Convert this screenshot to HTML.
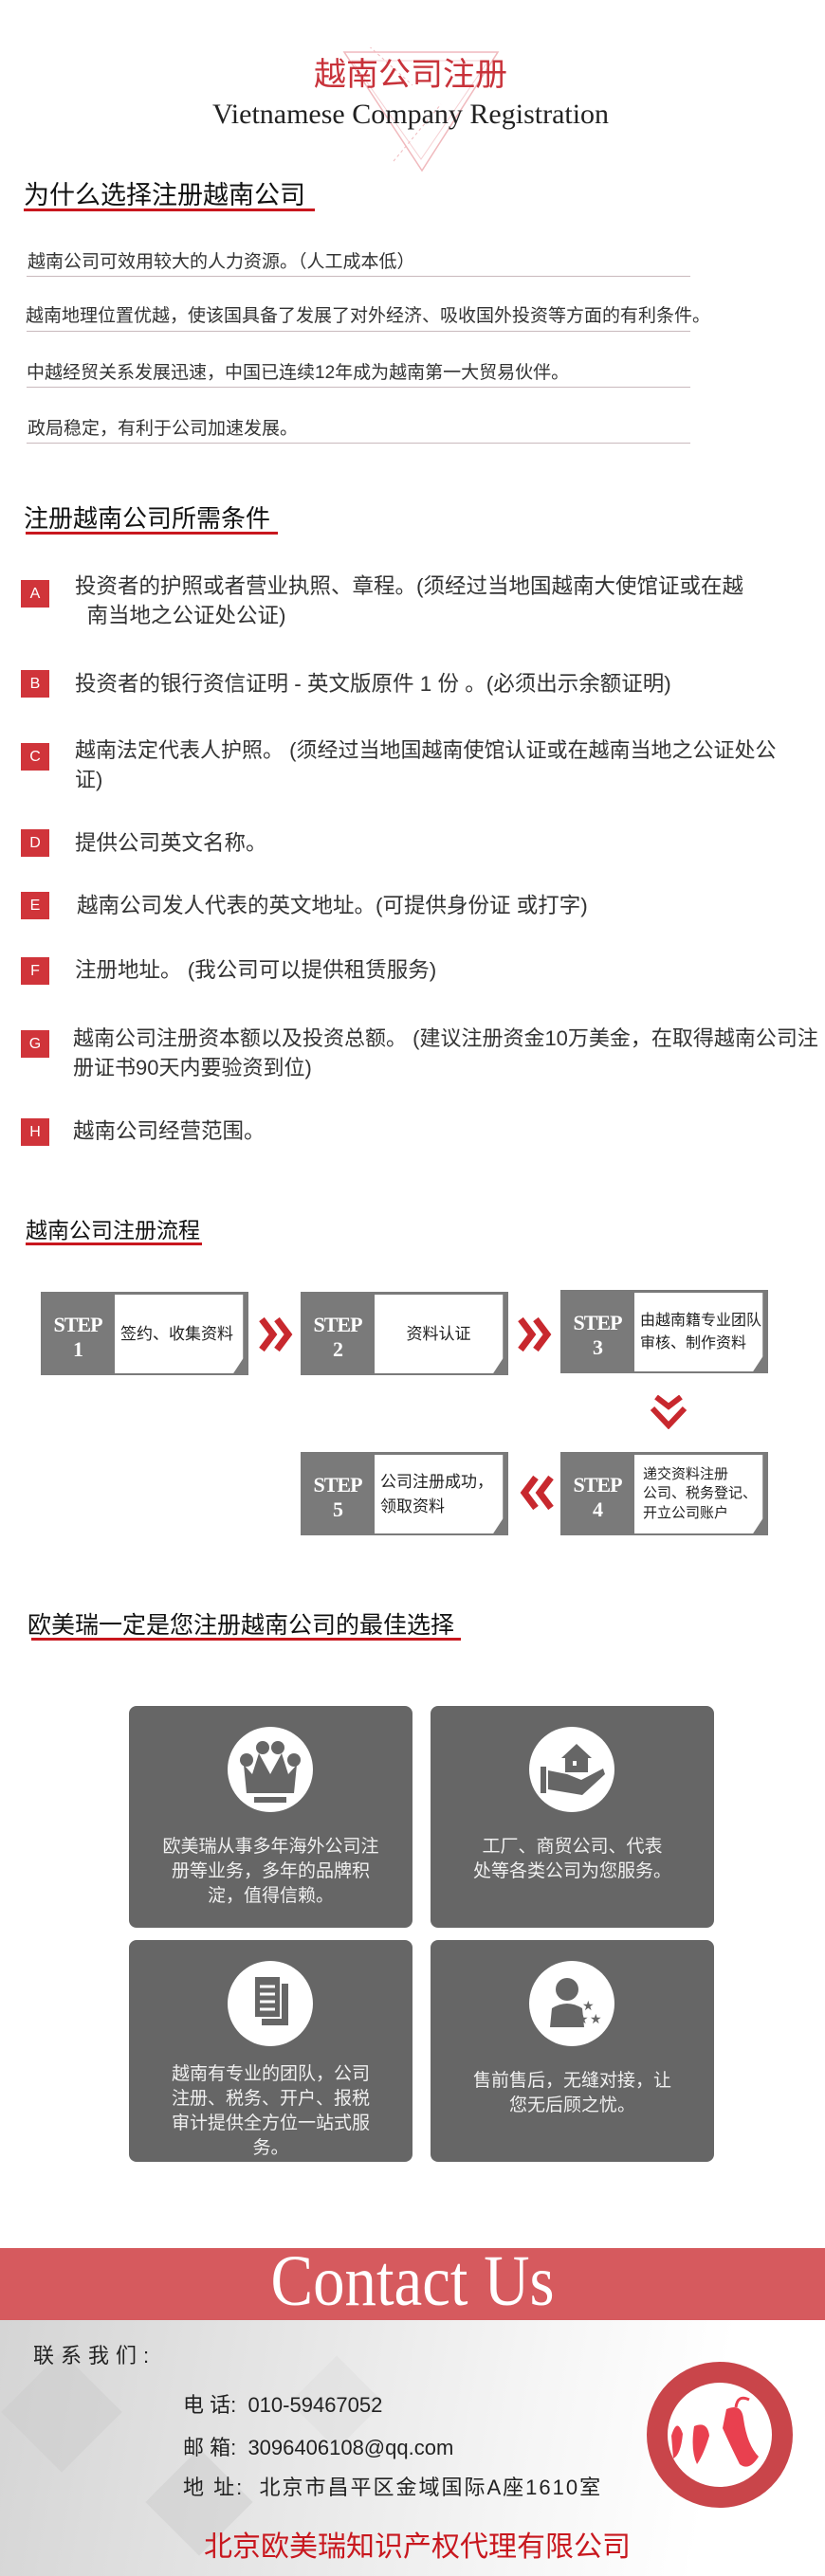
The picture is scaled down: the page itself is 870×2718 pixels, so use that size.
<!DOCTYPE html>
<html><head><meta charset="utf-8"><style>
*{margin:0;padding:0;box-sizing:border-box}
body{width:870px;height:2718px;position:relative;background:#fff;font-family:"Liberation Sans","Noto Sans CJK SC",sans-serif;overflow:hidden;color:#333}
.a{position:absolute;white-space:nowrap}
.h{font-size:26px;color:#111;line-height:1}
.ul{position:absolute;height:3px;background:#c8171e}
.wl{font-size:19px;line-height:1;color:#333}
.ln{position:absolute;height:1px;background:#c9b9bd;left:28px;width:700px}
.bx{position:absolute;left:22px;width:30px;height:29px;background:#d0343a;color:#fff;font-size:16px;text-align:center;line-height:29px}
.it{font-size:22.5px;line-height:31px;color:#333}
.step{position:absolute;width:219px;height:88px;background:#7a7a7a}
.step .w{position:absolute;left:78px;top:3px;width:136px;height:83px;background:#fff;border-right:1px solid #999;font-size:17px;color:#222;display:flex;align-items:center;padding-left:6px;line-height:1.5;clip-path:polygon(0 0,100% 0,100% 80%,92% 100%,0 100%)}
.step .lb{position:absolute;left:0;width:78px;top:22px;text-align:center;color:#fff;font-family:"Liberation Serif",serif;font-weight:bold;font-size:22px;line-height:26px;letter-spacing:-1px}
.card{position:absolute;width:299px;height:234px;background:#666;border-radius:8px;color:#f0f0f0;text-align:center;font-size:19px;line-height:26px}
.card .c{position:absolute;left:104px;top:22px;width:90px;height:90px;border-radius:50%;background:#fff}
.card .t{position:absolute;left:0;right:0;top:136px}
.ct{font-size:22px;color:#222;line-height:1}
</style></head><body>

<svg class="a" style="left:355px;top:50px" width="180" height="140">
<polygon points="8,5 170,5 90,130" fill="none" stroke="#f0b9bd" stroke-width="1.5"/>
<polygon points="16,14 160,14 89,118" fill="none" stroke="#f5d0d3" stroke-width="1"/>
<line x1="30" y1="-5" x2="80" y2="40" stroke="#f0b9bd" stroke-dasharray="3,3"/>
<line x1="60" y1="120" x2="110" y2="60" stroke="#f0b9bd" stroke-dasharray="3,3"/>
</svg>
<div class="a" style="left:0;width:866px;text-align:center;top:62px;font-size:34px;color:#c8323a;line-height:1">越南公司注册</div>
<div class="a" style="left:0;width:866px;text-align:center;top:106px;font-family:'Liberation Serif',serif;font-size:30px;color:#222;line-height:1">Vietnamese Company Registration</div>

<div class="a h" style="left:25px;top:193px;font-size:27px">为什么选择注册越南公司</div>
<div class="ul" style="left:25px;top:220px;width:307px"></div>

<div class="a wl" style="left:29px;top:267px">越南公司可效用较大的人力资源。（人工成本低）</div><div class="ln" style="top:291px"></div>
<div class="a wl" style="left:27px;top:324px">越南地理位置优越，使该国具备了发展了对外经济、吸收国外投资等方面的有利条件。</div><div class="ln" style="top:349px"></div>
<div class="a wl" style="left:28px;top:384px">中越经贸关系发展迅速，中国已连续12年成为越南第一大贸易伙伴。</div><div class="ln" style="top:408px"></div>
<div class="a wl" style="left:29px;top:443px">政局稳定，有利于公司加速发展。</div><div class="ln" style="top:467px"></div>

<div class="a h" style="left:25px;top:534px;font-size:26px">注册越南公司所需条件</div>
<div class="ul" style="left:27px;top:561px;width:266px"></div>

<div class="bx" style="top:612px">A</div>
<div class="a it" style="left:79px;top:603px">投资者的护照或者营业执照、章程。(须经过当地国越南大使馆证或在越<br>&nbsp;&nbsp;南当地之公证处公证)</div>
<div class="bx" style="top:707px">B</div>
<div class="a it" style="left:79px;top:706px">投资者的银行资信证明 - 英文版原件 1 份 。(必须出示余额证明)</div>
<div class="bx" style="top:784px">C</div>
<div class="a it" style="left:79px;top:776px;font-size:22px">越南法定代表人护照。 (须经过当地国越南使馆认证或在越南当地之公证处公<br>证)</div>
<div class="bx" style="top:875px">D</div>
<div class="a it" style="left:79px;top:874px">提供公司英文名称。</div>
<div class="bx" style="top:941px">E</div>
<div class="a it" style="left:81px;top:940px">越南公司发人代表的英文地址。(可提供身份证 或打字)</div>
<div class="bx" style="top:1010px">F</div>
<div class="a it" style="left:79px;top:1008px">注册地址。 (我公司可以提供租赁服务)</div>
<div class="bx" style="top:1087px">G</div>
<div class="a it" style="left:77px;top:1080px;font-size:22px">越南公司注册资本额以及投资总额。 (建议注册资金10万美金，在取得越南公司注<br>册证书90天内要验资到位)</div>
<div class="bx" style="top:1180px">H</div>
<div class="a it" style="left:77px;top:1178px">越南公司经营范围。</div>

<div class="a h" style="left:27px;top:1287px;font-size:23px">越南公司注册流程</div>
<div class="ul" style="left:27px;top:1311px;width:186px"></div>

<div class="step" style="left:43px;top:1363px"><div class="lb">STEP<br>1</div><div class="w">签约、收集资料</div></div>
<div class="step" style="left:317px;top:1363px"><div class="lb">STEP<br>2</div><div class="w" style="justify-content:center;padding:0">资料认证</div></div>
<div class="step" style="left:591px;top:1361px"><div class="lb">STEP<br>3</div><div class="w" style="font-size:16px">由越南籍专业团队<br>审核、制作资料</div></div>
<div class="step" style="left:591px;top:1532px"><div class="lb">STEP<br>4</div><div class="w" style="font-size:15px;line-height:1.35;padding-left:9px">递交资料注册<br>公司、税务登记、<br>开立公司账户</div></div>
<div class="step" style="left:317px;top:1532px"><div class="lb">STEP<br>5</div><div class="w">公司注册成功，<br>领取资料</div></div>

<svg class="a" style="left:272px;top:1388px" width="40" height="40"><path d="M4,4 L16,20 L4,36 M20,4 L32,20 L20,36" fill="none" stroke="#c8282e" stroke-width="7"/></svg>
<svg class="a" style="left:545px;top:1388px" width="40" height="40"><path d="M4,4 L16,20 L4,36 M20,4 L32,20 L20,36" fill="none" stroke="#c8282e" stroke-width="7"/></svg>
<svg class="a" style="left:684px;top:1472px" width="42" height="36"><path d="M8,2 L21,12 L34,2 M4,14 L21,32 L38,14" fill="none" stroke="#c8282e" stroke-width="6"/></svg>
<svg class="a" style="left:545px;top:1555px" width="40" height="40"><path d="M36,4 L24,20 L36,36 M20,4 L8,20 L20,36" fill="none" stroke="#c8282e" stroke-width="7"/></svg>

<div class="a h" style="left:29px;top:1703px;font-size:25px">欧美瑞一定是您注册越南公司的最佳选择</div>
<div class="ul" style="left:33px;top:1728px;width:453px"></div>

<div class="card" style="left:136px;top:1800px"><div class="c"><svg width="90" height="90"><g fill="#666"><circle cx="20" cy="35" r="7"/><circle cx="37" cy="22" r="7"/><circle cx="53" cy="22" r="7"/><circle cx="70" cy="35" r="7"/><path d="M17,40 L26,50 L33,28 L45,50 L57,28 L64,50 L73,40 L70,70 L20,70 Z"/><rect x="28" y="74" width="34" height="6"/></g></svg></div><div class="t">欧美瑞从事多年海外公司注<br>册等业务，多年的品牌积<br>淀，值得信赖。</div></div>
<div class="card" style="left:454px;top:1800px"><div class="c"><svg width="90" height="90"><g fill="#666"><path d="M50,18 L66,33 L62,33 L62,48 L38,48 L38,33 L34,33 Z"/><rect x="12" y="42" width="6" height="28"/><path d="M20,46 L40,50 L55,56 L78,44 L80,50 L56,72 L20,66 Z"/></g><rect x="46" y="36" width="4" height="5" fill="#fff"/></svg></div><div class="t" style="top:136px">工厂、商贸公司、代表<br>处等各类公司为您服务。</div></div>
<div class="card" style="left:136px;top:2047px"><div class="c"><svg width="90" height="90"><rect x="36" y="24" width="28" height="44" fill="#666"/><rect x="28" y="16" width="28" height="44" fill="#666" stroke="#fff" stroke-width="2"/><g stroke="#fff" stroke-width="3"><line x1="34" y1="27" x2="50" y2="27"/><line x1="34" y1="35" x2="50" y2="35"/><line x1="34" y1="43" x2="50" y2="43"/><line x1="34" y1="51" x2="50" y2="51"/></g></svg></div><div class="t" style="top:129px">越南有专业的团队，公司<br>注册、税务、开户、报税<br>审计提供全方位一站式服<br>务。</div></div>
<div class="card" style="left:454px;top:2047px"><div class="c"><svg width="90" height="90"><g fill="#666"><circle cx="40" cy="30" r="12"/><path d="M22,70 L24,50 Q40,40 56,50 L58,70 Z"/><text x="56" y="52" font-size="14" font-family="DejaVu Sans">★</text><text x="50" y="66" font-size="14" font-family="DejaVu Sans">★</text><text x="64" y="66" font-size="14" font-family="DejaVu Sans">★</text></g></svg></div><div class="t" style="top:136px">售前售后，无缝对接，让<br>您无后顾之忧。</div></div>

<div class="a" style="left:0;top:2372px;width:870px;height:346px;background:linear-gradient(100deg,#d4d4d4 0%,#e6e6e6 35%,#f6f6f6 65%,#fff 85%)"></div>
<div class="a" style="left:20px;top:2500px;width:90px;height:90px;background:#ccc;transform:rotate(45deg);opacity:.5"></div>
<div class="a" style="left:170px;top:2600px;width:80px;height:80px;background:#ccc;transform:rotate(45deg);opacity:.5"></div>
<div class="a" style="left:320px;top:2500px;width:70px;height:70px;background:#ddd;transform:rotate(45deg);opacity:.5"></div>
<div class="a" style="left:0;top:2372px;width:870px;height:76px;background:#d65a5e"></div>
<div class="a" style="left:0;width:870px;text-align:center;top:2369px;font-family:'Liberation Serif',serif;font-size:76px;color:#fff;line-height:1;transform:scaleX(.88)">Contact Us</div>
<div class="a ct" style="left:35px;top:2475px;letter-spacing:7px">联系我们:</div>
<div class="a ct" style="left:193px;top:2527px">电 话:&nbsp; 010-59467052</div>
<div class="a ct" style="left:193px;top:2572px">邮 箱:&nbsp; 3096406108@qq.com</div>
<div class="a ct" style="left:193px;top:2614px;letter-spacing:2px">地 址:&nbsp; 北京市昌平区金域国际A座1610室</div>
<div class="a" style="left:215px;top:2673px;font-size:30px;color:#c8171e;line-height:1">北京欧美瑞知识产权代理有限公司</div>
<svg class="a" style="left:680px;top:2490px" width="158" height="158"><circle cx="79" cy="79" r="66" fill="#fff" stroke="#c9454a" stroke-width="22"/><path d="M28,80 Q34,60 40,78 Q38,100 30,104 Z M52,70 Q66,64 68,80 Q62,100 55,110 Q48,95 52,70 Z M86,52 Q102,45 104,62 Q108,90 120,102 Q110,118 100,110 Q90,90 82,72 Z" fill="#e9404f"/><path d="M96,50 Q98,36 110,42" fill="none" stroke="#e9404f" stroke-width="3"/></svg>
</body></html>
